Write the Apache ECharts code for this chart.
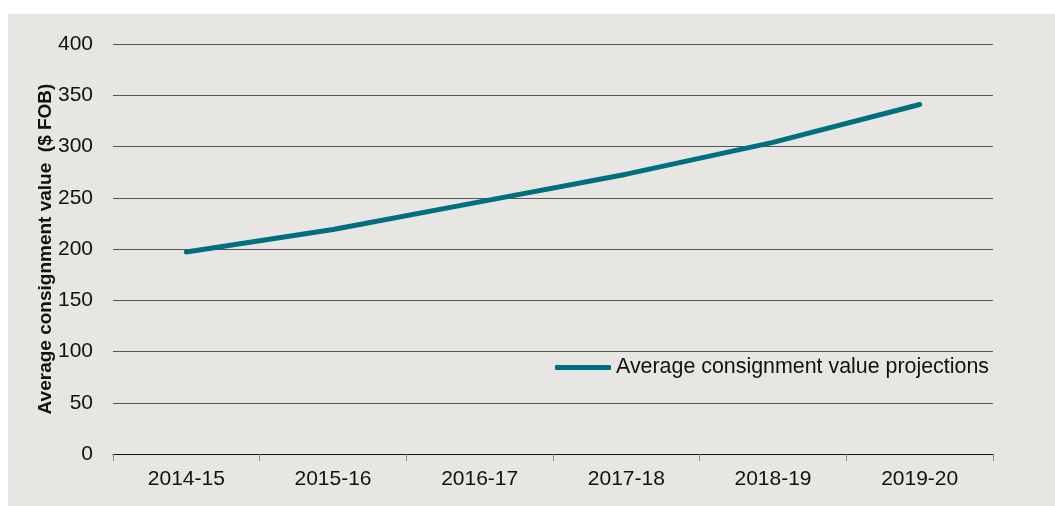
<!DOCTYPE html>
<html>
<head>
<meta charset="utf-8">
<script src="https://cdn.jsdelivr.net/npm/echarts@6/dist/echarts.min.js"></script>
<style>
  html, body { margin: 0; padding: 0; background: #ffffff; }
  #chart { position: absolute; left: 8px; top: 14px; width: 1047px; height: 492px; background: #e8e6e2; }
</style>
</head>
<body>
<div id="chart"></div>
<script>
// data
var years = ['2014-15', '2015-16', '2016-17', '2017-18', '2018-19', '2019-20'];
var avgValue = [197, 219, 246, 273, 304, 341];
var seriesName = 'Average consignment value projections';

var chart = echarts.init(document.getElementById('chart'), null, { renderer: 'canvas' });

var option = {
  animation: false,
  backgroundColor: '#e8e6e2',
  textStyle: { fontFamily: 'Liberation Sans, Arial, sans-serif' },
  grid: {
    left: 105,
    right: 62,
    top: 30,
    bottom: 52
  },
  legend: {
    data: [seriesName],
    left: 542,
    top: 338,
    icon: 'roundRect',
    itemWidth: 56,
    itemHeight: 5,
    textStyle: { fontSize: 21.4, color: '#111' }
  },
  xAxis: {
    type: 'category',
    data: years,
    boundaryGap: true,
    axisLine: { lineStyle: { color: '#111', width: 1 } },
    axisTick: { show: true, length: 7, lineStyle: { color: '#888' } },
    axisLabel: { fontSize: 21, color: '#111', margin: 15 }
  },
  yAxis: {
    type: 'value',
    min: 0,
    max: 400,
    interval: 50,
    name: 'Average consignment value  ($ FOB)',
    nameLocation: 'middle',
    nameGap: 58,
    nameMoveOverlap: false,
    nameTextStyle: { fontSize: 19, fontWeight: 'bold', color: '#111' },
    axisLine: { show: false },
    axisTick: { show: false },
    axisLabel: { fontSize: 21, color: '#111', margin: 20 },
    splitLine: { lineStyle: { color: '#555', width: 1 } }
  },
  series: [{
    name: seriesName,
    type: 'line',
    data: avgValue,
    showSymbol: false,
    symbol: 'none',
    smooth: false,
    itemStyle: { color: '#00707f' },
    lineStyle: { color: '#00707f', width: 5, cap: 'round' }
  }]
};

chart.setOption(option);
</script>
</body>
</html>
